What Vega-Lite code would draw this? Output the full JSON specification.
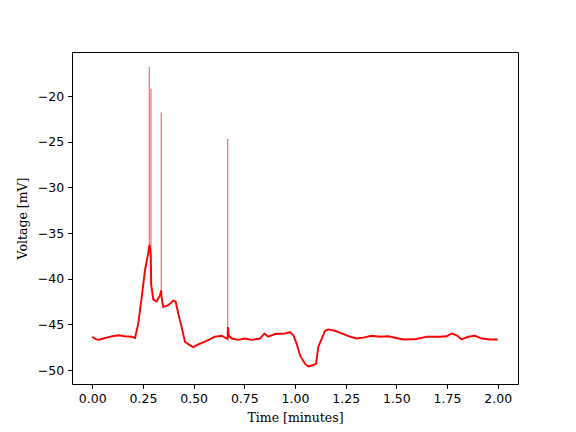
{
  "$schema": "https://vega.github.io/schema/vega-lite/v6.json",
  "autosize": "none",
  "width": 446,
  "height": 332,
  "padding": {"left": 72, "top": 52, "right": 58, "bottom": 48},
  "background": "white",
  "config": {
    "view": {"stroke": "black", "strokeWidth": 1},
    "axis": {
      "domain": false,
      "grid": false,
      "tickColor": "black",
      "tickSize": 4.4,
      "tickWidth": 1,
      "labelColor": "black",
      "labelFont": "DejaVu Sans",
      "labelFontSize": 12.5,
      "labelPadding": 4,
      "titleFont": "DejaVu Serif",
      "titleFontSize": 12.5,
      "titleFontWeight": "normal",
      "titleColor": "black"
    }
  },
  "datasets": {
    "trace": [
      {"t": 0.0, "v": -46.35},
      {"t": 0.015, "v": -46.6},
      {"t": 0.0296, "v": -46.7},
      {"t": 0.055, "v": -46.55},
      {"t": 0.079, "v": -46.4},
      {"t": 0.1, "v": -46.3},
      {"t": 0.128, "v": -46.2},
      {"t": 0.16, "v": -46.3},
      {"t": 0.194, "v": -46.35},
      {"t": 0.211, "v": -46.5},
      {"t": 0.227, "v": -44.9},
      {"t": 0.244, "v": -42.0},
      {"t": 0.26, "v": -39.05},
      {"t": 0.276, "v": -37.2},
      {"t": 0.2805, "v": -36.5},
      {"t": 0.2825, "v": -36.3},
      {"t": 0.2885, "v": -37.5},
      {"t": 0.291, "v": -40.7},
      {"t": 0.301, "v": -42.3},
      {"t": 0.318, "v": -42.5},
      {"t": 0.334, "v": -41.8},
      {"t": 0.3395, "v": -41.3},
      {"t": 0.3415, "v": -42.0},
      {"t": 0.35, "v": -43.1},
      {"t": 0.375, "v": -42.9},
      {"t": 0.4, "v": -42.4},
      {"t": 0.411, "v": -42.5},
      {"t": 0.424, "v": -43.8},
      {"t": 0.441, "v": -45.3},
      {"t": 0.457, "v": -46.9},
      {"t": 0.482, "v": -47.3},
      {"t": 0.498, "v": -47.5},
      {"t": 0.523, "v": -47.2},
      {"t": 0.556, "v": -46.9},
      {"t": 0.605, "v": -46.35},
      {"t": 0.638, "v": -46.25},
      {"t": 0.663, "v": -46.55},
      {"t": 0.6675, "v": -46.6},
      {"t": 0.669, "v": -45.3},
      {"t": 0.673, "v": -46.2},
      {"t": 0.688, "v": -46.55},
      {"t": 0.72, "v": -46.7},
      {"t": 0.753, "v": -46.55},
      {"t": 0.786, "v": -46.7},
      {"t": 0.827, "v": -46.55},
      {"t": 0.849, "v": -46.0},
      {"t": 0.868, "v": -46.35},
      {"t": 0.901, "v": -46.06},
      {"t": 0.951, "v": -46.0},
      {"t": 0.975, "v": -45.85},
      {"t": 0.992, "v": -46.2},
      {"t": 1.008, "v": -47.1},
      {"t": 1.025, "v": -48.4},
      {"t": 1.049, "v": -49.3},
      {"t": 1.066, "v": -49.6},
      {"t": 1.091, "v": -49.45},
      {"t": 1.104, "v": -49.3},
      {"t": 1.115, "v": -47.45},
      {"t": 1.132, "v": -46.55},
      {"t": 1.148, "v": -45.7},
      {"t": 1.164, "v": -45.55},
      {"t": 1.197, "v": -45.7},
      {"t": 1.23, "v": -46.0},
      {"t": 1.271, "v": -46.35},
      {"t": 1.304, "v": -46.55},
      {"t": 1.337, "v": -46.45},
      {"t": 1.378, "v": -46.25},
      {"t": 1.419, "v": -46.35},
      {"t": 1.46, "v": -46.3},
      {"t": 1.534, "v": -46.65},
      {"t": 1.6, "v": -46.6},
      {"t": 1.65, "v": -46.35},
      {"t": 1.715, "v": -46.35},
      {"t": 1.748, "v": -46.3},
      {"t": 1.773, "v": -46.0},
      {"t": 1.798, "v": -46.2},
      {"t": 1.822, "v": -46.65},
      {"t": 1.855, "v": -46.35},
      {"t": 1.888, "v": -46.25},
      {"t": 1.921, "v": -46.55},
      {"t": 1.962, "v": -46.65},
      {"t": 2.0, "v": -46.65}
    ],
    "spikes": [
      {"t": 0.2812, "base": -36.5, "peak": -16.8},
      {"t": 0.2895, "base": -40.7, "peak": -19.2},
      {"t": 0.3402, "base": -41.8, "peak": -21.8},
      {"t": 0.6682, "base": -46.5, "peak": -24.7}
    ]
  },
  "layer": [
    {
      "data": {"name": "trace"},
      "mark": {"type": "line", "color": "#ff0000", "strokeWidth": 1.9, "clip": true},
      "encoding": {
        "x": {
          "field": "t",
          "type": "quantitative",
          "scale": {"domain": [-0.1, 2.1], "nice": false, "zero": false},
          "axis": {"values": [0, 0.25, 0.5, 0.75, 1, 1.25, 1.5, 1.75, 2], "format": ".2f", "title": "Time [minutes]", "titlePadding": 7}
        },
        "y": {
          "field": "v",
          "type": "quantitative",
          "scale": {"domain": [-51.53, -15.18], "nice": false, "zero": false},
          "axis": {"values": [-50, -45, -40, -35, -30, -25, -20], "format": "d", "title": "Voltage [mV]", "titlePadding": 8}
        }
      }
    },
    {
      "data": {"name": "spikes"},
      "mark": {"type": "rule", "color": "#ff0000", "strokeWidth": 0.9, "opacity": 0.8, "clip": true},
      "encoding": {
        "x": {"field": "t", "type": "quantitative"},
        "y": {"field": "base", "type": "quantitative"},
        "y2": {"field": "peak"}
      }
    }
  ]
}
